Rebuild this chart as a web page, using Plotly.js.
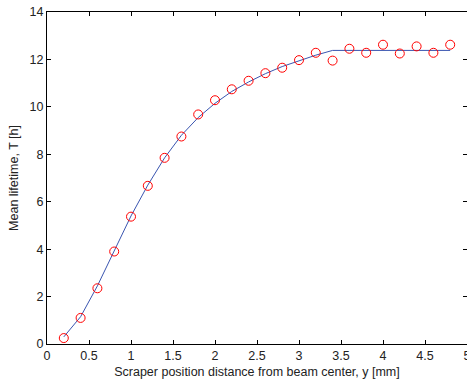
<!DOCTYPE html>
<html><head><meta charset="utf-8">
<script src="https://cdn.plot.ly/plotly-3.0.1.min.js"></script>
<style>html,body{margin:0;padding:0;overflow:hidden;background:#fff}</style>
</head><body><div id="chart" style="width:467px;height:382px"></div>
<script>
const positions = [0.2,0.4,0.6,0.8,1.0,1.2,1.4,1.6,1.8,2.0,2.2,2.4,2.6,2.8,3.0,3.2,3.4,3.6,3.8,4.0,4.2,4.4,4.6,4.8];
const measured = [0.25,1.1,2.35,3.9,5.37,6.67,7.85,8.75,9.68,10.28,10.74,11.1,11.42,11.65,11.97,12.28,11.95,12.45,12.28,12.62,12.25,12.55,12.28,12.62];
const fitted = [0.3,1.15,2.45,3.95,5.4,6.7,7.85,8.8,9.55,10.15,10.65,11.05,11.4,11.7,11.95,12.18,12.38,12.38,12.38,12.38,12.38,12.38,12.38,12.38];
const xTitle = 'Scraper position distance from beam center, y [mm]';
const yTitle = 'Mean lifetime, T [h]';

const font = {family:'Liberation Sans, Arial, sans-serif', size:12.5, color:'#222'};
const data = [
  {x:positions, y:fitted, mode:'lines', line:{color:'#3a55b0', width:1}, hoverinfo:'skip'},
  {x:positions, y:measured, mode:'markers', marker:{symbol:'circle-open', size:9, color:'#ff0000', line:{width:1, color:'#ff0000'}}}
];
const axisCommon = {showgrid:false, zeroline:false, showline:true, linecolor:'#000', linewidth:1, mirror:'ticks', ticks:'inside', ticklen:4, tickcolor:'#000', tickfont:font, ticklabeloverflow:'allow'};
const layout = {
  width:467, height:382,
  margin:{l:47, r:0, t:12, b:38},
  paper_bgcolor:'#fff', plot_bgcolor:'#fff',
  showlegend:false,
  font:font,
  xaxis:Object.assign({}, axisCommon, {range:[0,5], dtick:0.5, tick0:0, title:{text:xTitle, font:font, standoff:5}}),
  yaxis:Object.assign({}, axisCommon, {range:[0,14], dtick:2, tick0:0, title:{text:yTitle, font:font, standoff:8}})
};
Plotly.newPlot('chart', data, layout, {staticPlot:true, displayModeBar:false});
</script></body></html>
